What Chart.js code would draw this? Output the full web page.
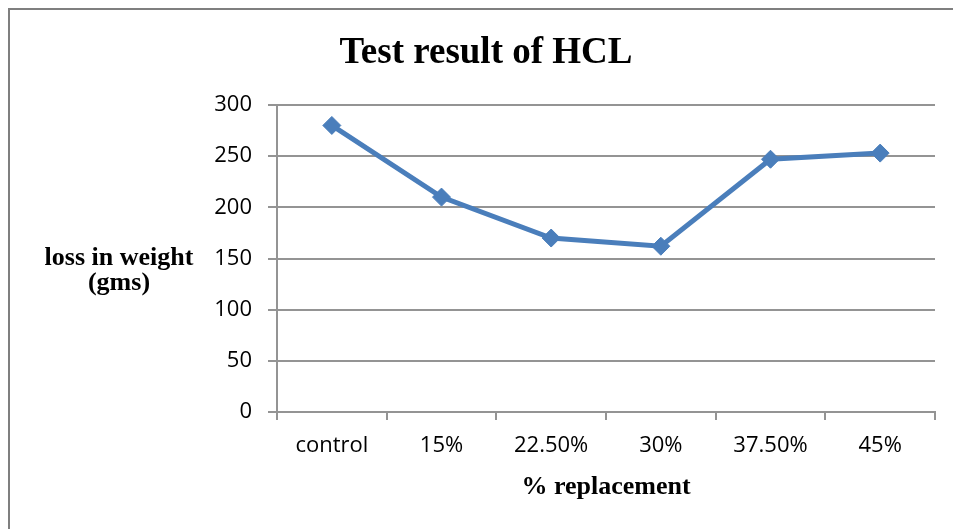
<!DOCTYPE html>
<html>
<head>
<meta charset="utf-8">
<title>Test result of HCL</title>
<script src="https://cdn.jsdelivr.net/npm/chart.js@4.4.0/dist/chart.umd.min.js"></script>
<style>
	body { margin: 0; background: #fff; }
	#wrap { width: 953px; height: 529px; }
</style>
</head>
<body>
<div id="wrap"><canvas id="cht_hcl" width="953" height="529"></canvas></div>
<script>
"use strict";

var categories = ["control", "15%", "22.50%", "30%", "37.50%", "45%"];
var lossInWeight = [280, 210, 170, 162, 247, 253];
var yTicks = [0, 50, 100, 150, 200, 250, 300];
var yTitleLines = ["loss in weight", "(gms)"];

var gridColor = "#949494";
var lineColor = "#4a7ebb";
var serif = "'Liberation Serif', 'Times New Roman', serif";
var sans = "'Open Sans', 'Liberation Sans', sans-serif";

// white page, grey frame and the horizontal y axis title
var pagePlugin = {
	id: 'page',
	beforeDraw: function (chart) {
		var ctx = chart.ctx;
		ctx.save();
		ctx.fillStyle = "#fff";
		ctx.fillRect(0, 0, chart.width, chart.height);
		ctx.strokeStyle = "#7f7f7f";
		ctx.lineWidth = 2;
		ctx.beginPath();
		ctx.moveTo(9, chart.height);
		ctx.lineTo(9, 9);
		ctx.lineTo(chart.width, 9);
		ctx.stroke();
		ctx.restore();
	},
	afterDraw: function (chart) {
		var ctx = chart.ctx;
		var mid = (chart.chartArea.top + chart.chartArea.bottom) / 2;
		ctx.save();
		ctx.fillStyle = "#000";
		ctx.font = "bold 26px " + serif;
		ctx.textAlign = "center";
		ctx.textBaseline = "middle";
		for (var i = 0; i < yTitleLines.length; i++) {
			ctx.fillText(yTitleLines[i], 119, mid + i * 25);
		}
		ctx.restore();
	}
};

var hclChart = new Chart(document.getElementById("cht_hcl").getContext('2d'), {
	type: 'line',
	data: {
		labels: categories,
		datasets: [{
			label: "loss in weight",
			data: lossInWeight,
			borderColor: lineColor,
			backgroundColor: lineColor,
			borderWidth: 5,
			pointStyle: 'rectRot',
			pointRadius: 9,
			pointBorderWidth: 1,
			pointBackgroundColor: lineColor,
			pointBorderColor: lineColor,
			tension: 0,
			fill: false
		}]
	},
	options: {
		responsive: false,
		animation: false,
		layout: { padding: { left: 37, right: 18, top: 0, bottom: 0 } },
		plugins: {
			legend: { display: false },
			tooltip: { enabled: false },
			title: {
				display: true,
				text: "Test result of HCL",
				color: "#000",
				font: { family: serif, size: 37, weight: 'bold', lineHeight: 1.2 },
				padding: { top: 31, bottom: 29.6 }
			}
		},
		scales: {
			x: {
				type: 'category',
				offset: true,
				afterFit: function (scale) { scale.height = 117; },
				grid: {
					offset: true,
					drawOnChartArea: false,
					drawTicks: true,
					tickLength: 8,
					color: gridColor,
					lineWidth: 2
				},
				border: { display: true, color: gridColor, width: 2 },
				ticks: {
					color: "#000",
					padding: 13,
					maxRotation: 0,
					font: { family: sans, size: 22 }
				},
				title: {
					display: true,
					text: "% replacement",
					color: "#000",
					font: { family: serif, size: 26, weight: 'bold', lineHeight: 1.2 },
					padding: { top: 0, bottom: 26 }
				}
			},
			y: {
				min: yTicks[0],
				max: yTicks[yTicks.length - 1],
				afterFit: function (scale) { scale.width = 240; },
				afterBuildTicks: function (scale) {
					scale.ticks = yTicks.map(function (v) { return { value: v }; });
				},
				grid: {
					color: gridColor,
					lineWidth: 2,
					drawTicks: true,
					tickLength: 9
				},
				border: { display: true, color: gridColor, width: 2 },
				ticks: {
					color: "#000",
					padding: 16,
					font: { family: sans, size: 22 }
				}
			}
		}
	},
	plugins: [pagePlugin]
});
</script>
</body>
</html>
